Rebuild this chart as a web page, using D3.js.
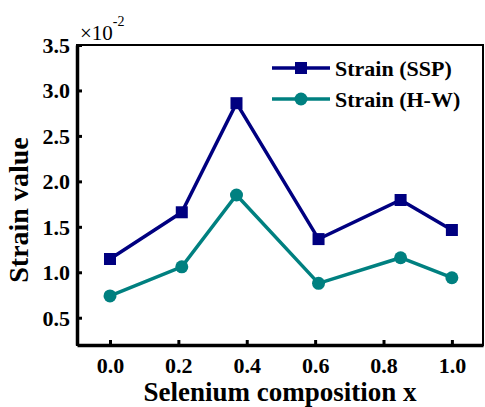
<!DOCTYPE html>
<html>
<head>
<meta charset="utf-8">
<script src="https://cdn.jsdelivr.net/npm/d3@7"></script>
<style>
  body { margin: 0; background: #fff; }
  svg text { font-family: "Liberation Serif", "DejaVu Serif", serif; }
</style>
</head>
<body>
<div id="chart"></div>
<script>
"use strict"

// x positions (Selenium composition)
const composition = [0.0, 0.21, 0.37, 0.61, 0.85, 1.0]
// strain values, in units of 1e-2
const strainSSP = [1.146, 1.66, 2.86, 1.365, 1.795, 1.465]
const strainHW = [0.74, 1.06, 1.85, 0.878, 1.16, 0.94]

const xTicks = [0.0, 0.2, 0.4, 0.6, 0.8, 1.0]
const yTicks = [0.5, 1.0, 1.5, 2.0, 2.5, 3.0, 3.5]

const seriesNames = ["Strain (SSP)", "Strain (H-W)"]
const seriesColors = ["#000080", "#008080"]

const width = 485
const height = 407
const margin = { top: 45, right: 2, bottom: 62, left: 77 }

const svg = d3.select("#chart").append("svg")
  .attr("width", width)
  .attr("height", height)

const x = d3.scaleLinear()
  .domain([-0.0965, 1.091])
  .range([margin.left, width - margin.right])

const y = d3.scaleLinear()
  .domain([0.2, 3.5])
  .range([height - margin.bottom, margin.top])

// frame: thin top/right, thick left/bottom
svg.append("rect")
  .attr("x", margin.left)
  .attr("y", margin.top)
  .attr("width", width - margin.right - margin.left)
  .attr("height", height - margin.bottom - margin.top)
  .attr("fill", "none")
  .attr("stroke", "black")
  .attr("stroke-width", 2)

const xAxis = svg.append("g")
  .attr("transform", `translate(0, ${height - margin.bottom})`)
  .call(d3.axisBottom(x).tickValues(xTicks).tickSizeInner(-5).tickSizeOuter(0).tickPadding(9).tickFormat(d3.format(".1f")))

const yAxis = svg.append("g")
  .attr("transform", `translate(${margin.left}, 0)`)
  .call(d3.axisLeft(y).tickValues(yTicks).tickSizeInner(-5).tickSizeOuter(0).tickPadding(7).tickFormat(d3.format(".1f")))

for (let axis of [xAxis, yAxis]) {
  axis.select(".domain").attr("stroke-width", 3.5)
  axis.selectAll(".tick line").attr("stroke-width", 3)
  axis.selectAll(".tick text")
    .attr("font-size", "22px")
    .attr("font-weight", "bold")
    .attr("fill", "black")
    .style("font-family", "Liberation Serif")
}
xAxis.selectAll(".tick text").attr("dy", "0.85em")
yAxis.selectAll(".tick text").attr("dy", "0.34em")

// axis titles
svg.append("text")
  .attr("x", (x(-0.0965) + x(1.091)) / 2)
  .attr("y", 401)
  .attr("text-anchor", "middle")
  .attr("font-size", "27px")
  .attr("font-weight", "bold")
  .text("Selenium composition x")

svg.append("text")
  .attr("transform", `translate(28, 210) rotate(-90)`)
  .attr("text-anchor", "middle")
  .attr("font-size", "28px")
  .attr("font-weight", "bold")
  .text("Strain value")

// exponent label
const expo = svg.append("text")
  .attr("x", 80)
  .attr("y", 40)
  .attr("font-size", "21px")
expo.append("tspan").text("\u00d710")
expo.append("tspan").attr("dy", -14).attr("font-size", "14px").text("-2")

// series
const series = [strainSSP, strainHW]
const line = d3.line()
  .x((d, i) => x(composition[i]))
  .y((d) => y(d))

series.forEach((values, s) => {
  svg.append("path")
    .datum(values)
    .attr("d", line)
    .attr("fill", "none")
    .attr("stroke", seriesColors[s])
    .attr("stroke-width", 3.5)
    .attr("stroke-linejoin", "miter")
})

svg.selectAll("rect.ssp")
  .data(strainSSP)
  .enter()
  .append("rect")
  .attr("class", "ssp")
  .attr("x", (d, i) => x(composition[i]) - 6)
  .attr("y", (d) => y(d) - 6)
  .attr("width", 12)
  .attr("height", 12)
  .attr("fill", seriesColors[0])

svg.selectAll("circle.hw")
  .data(strainHW)
  .enter()
  .append("circle")
  .attr("class", "hw")
  .attr("cx", (d, i) => x(composition[i]))
  .attr("cy", (d) => y(d))
  .attr("r", 6.5)
  .attr("fill", seriesColors[1])

// legend
const legend = svg.append("g").attr("transform", "translate(272, 68)")
seriesNames.forEach((name, s) => {
  let g = legend.append("g").attr("transform", `translate(0, ${s * 31})`)
  g.append("line")
    .attr("x1", 0).attr("x2", 58)
    .attr("stroke", seriesColors[s])
    .attr("stroke-width", 3.5)
  if (s == 0) {
    g.append("rect").attr("x", 23).attr("y", -6).attr("width", 12).attr("height", 12).attr("fill", seriesColors[s])
  } else {
    g.append("circle").attr("cx", 29).attr("r", 6.5).attr("fill", seriesColors[s])
  }
  g.append("text")
    .attr("x", 63)
    .attr("y", 8)
    .attr("font-size", "22px")
    .attr("font-weight", "bold")
    .text(name)
})
</script>
</body>
</html>
